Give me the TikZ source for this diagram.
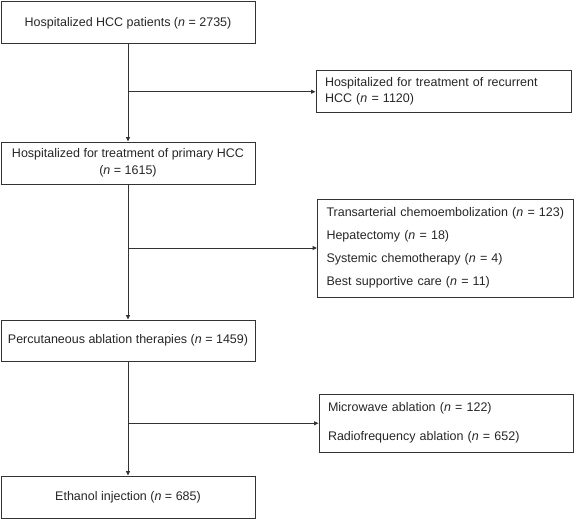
\documentclass[tikz,border=0pt]{standalone}
\usepackage{fontspec}
\setmainfont{Liberation Sans}
\usetikzlibrary{arrows.meta}
\begin{document}
\begin{tikzpicture}[x=1pt,y=-1pt,
  box/.style={draw=black!80, line width=1pt, inner sep=0pt, text=black!85,
    font=\fontsize{12.5}{16.7}\selectfont},
  lbox/.style={box, align=left, inner xsep=9pt},
  conn/.style={draw=black!80, line width=1pt},
  arr/.style={conn, -{Triangle[length=4.5pt,width=4pt]}}]
\useasboundingbox (0,0) rectangle (576,519);
\node[box, minimum width=254pt, minimum height=42pt] (b1) at (128,23)
  {Hospitalized HCC patients (\textit{n} = 2735)};
\node[lbox, text width=237pt, minimum height=41.5pt] (b2) at (443.5,91.3)
  {Hospitalized for treatment of recurrent\\HCC (\textit{n} = 1120)};
\node[box, align=center, minimum width=254pt, minimum height=42pt] (b3) at (128,163)
  {Hospitalized for treatment of primary HCC\\(\textit{n} = 1615)};
\node[lbox, text width=237.5pt, minimum height=98pt,
  font=\fontsize{12.5}{23}\selectfont] (b4) at (445.25,248)
  {Transarterial chemoembolization (\textit{n} = 123)\\
   Hepatectomy (\textit{n} = 18)\\
   Systemic chemotherapy (\textit{n} = 4)\\
   Best supportive care (\textit{n} = 11)};
\node[box, minimum width=254pt, minimum height=41pt] (b5) at (128,340.5)
  {Percutaneous ablation therapies (\textit{n} = 1459)};
\node[lbox, text width=236pt, minimum height=58pt,
  font=\fontsize{12.5}{29}\selectfont] (b6) at (446,423)
  {Microwave ablation (\textit{n} = 122)\\
   Radiofrequency ablation (\textit{n} = 652)};
\node[box, minimum width=254pt, minimum height=42pt] (b7) at (128,497)
  {Ethanol injection (\textit{n} = 685)};
\coordinate (j1) at (128,91.7);
\coordinate (j2) at (128,248);
\coordinate (j3) at (128,423.3);
\draw[arr] (b1.south) -- (b3.north);
\draw[arr] (b3.south) -- (b5.north);
\draw[arr] (b5.south) -- (b7.north);
\draw[arr] (j1) -- (j1 -| b2.west);
\draw[arr] (j2) -- (j2 -| b4.west);
\draw[arr] (j3) -- (j3 -| b6.west);
\end{tikzpicture}
\end{document}
